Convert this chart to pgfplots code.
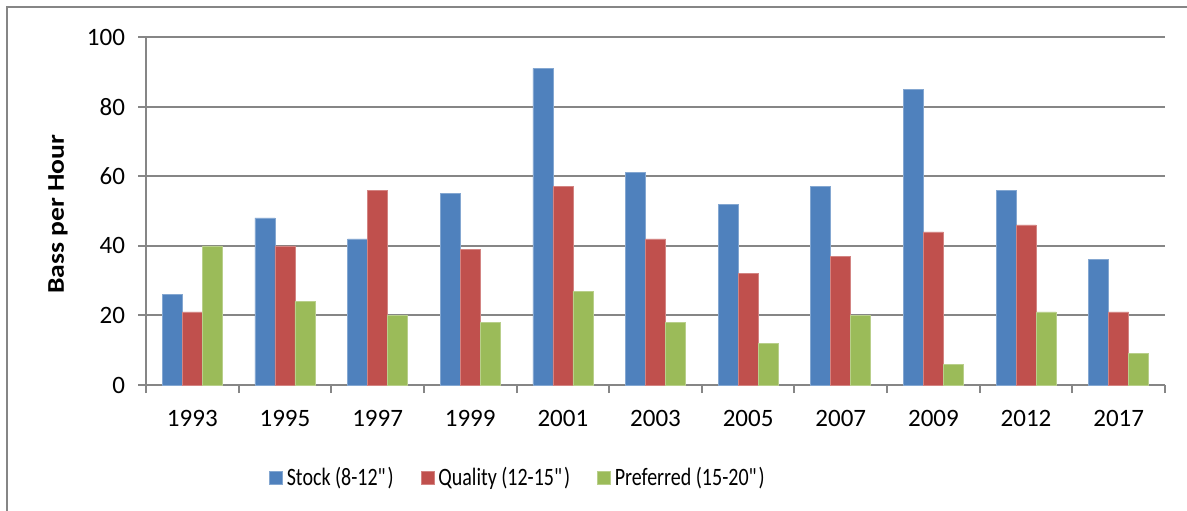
\documentclass[border=0pt]{standalone}
\usepackage{fontspec}
\setmainfont{Carlito}
\newfontfamily\legendfont{Carlito}[FakeStretch=0.8]
\newfontfamily\labelfont{Carlito}[FakeStretch=1.15]
\usepackage{pgfplots}
\pgfplotsset{compat=1.18}

\definecolor{stockblue}{HTML}{4F81BD}
\definecolor{qualred}{HTML}{C0504D}
\definecolor{prefgreen}{HTML}{9BBB59}
\definecolor{gridgray}{HTML}{868686}

\begin{document}
\begin{tikzpicture}
% page area: 1187 x 510 units of 0.5pt
\useasboundingbox (0pt,0pt) rectangle (593.5pt,-255pt);
% chart frame (left and top edges visible)
\draw[gridgray, line width=1pt] (3.5pt,-400pt) -- (3.5pt,-3.5pt) -- (800pt,-3.5pt);
\begin{axis}[
  at={(73pt,-192.5pt)}, anchor=south west,
  scale only axis,
  width=509.5pt, height=174pt,
  ybar=0pt, bar width=10pt,
  xmin=-0.5, xmax=10.5,
  ymin=0, ymax=100,
  ytick={0,20,...,100},
  xtick={0,...,10},
  xticklabels={1993,1995,1997,1999,2001,2003,2005,2007,2009,2012,2017},
  minor xtick={-0.5,0.5,...,10.5},
  major x tick style={draw=none},
  tick align=outside,
  major tick length=4pt, minor tick length=4pt,
  tick style={gridgray, line width=1pt},
  axis x line*=bottom, axis y line*=left,
  axis line style={gridgray, line width=1pt},
  ymajorgrids, grid style={gridgray, line width=1pt},
  /pgf/number format/assume math mode=true,
  ticklabel style={font=\fontsize{12.5}{14}\selectfont},
  xticklabel style={yshift=-5pt},
  yticklabel style={xshift=-3pt},
  ylabel={Bass per Hour},
  ylabel style={font=\labelfont\fontsize{12}{14}\selectfont\bfseries, at={(axis description cs:0,0.49)}, anchor=center, yshift=44pt},
  legend columns=3,
  legend style={draw=none, fill=none, at={(axis description cs:0.366,-0.266)}, anchor=center, font=\legendfont\fontsize{12.5}{14}\selectfont,
    /tikz/every even column/.append style={column sep=11.5pt}},
  legend image code/.code={\fill[#1] (0pt,-3.25pt) rectangle (6.5pt,3.25pt);},
  clip=false,
]
\addplot[fill=stockblue, draw=stockblue!70!white, line width=0.3pt] coordinates {
 (0,26) (1,48) (2,42) (3,55) (4,91) (5,61) (6,52) (7,57) (8,85) (9,56) (10,36)};
\addplot[fill=qualred, draw=qualred!70!white, line width=0.3pt] coordinates {
 (0,21) (1,40) (2,56) (3,39) (4,57) (5,42) (6,32) (7,37) (8,44) (9,46) (10,21)};
\addplot[fill=prefgreen, draw=prefgreen!70!white, line width=0.3pt] coordinates {
 (0,40) (1,24) (2,20) (3,18) (4,27) (5,18) (6,12) (7,20) (8,6) (9,21) (10,9)};
\legend{Stock (8-12\textquotedbl),Quality (12-15\textquotedbl),Preferred (15-20\textquotedbl)}
\end{axis}
\end{tikzpicture}
\end{document}
